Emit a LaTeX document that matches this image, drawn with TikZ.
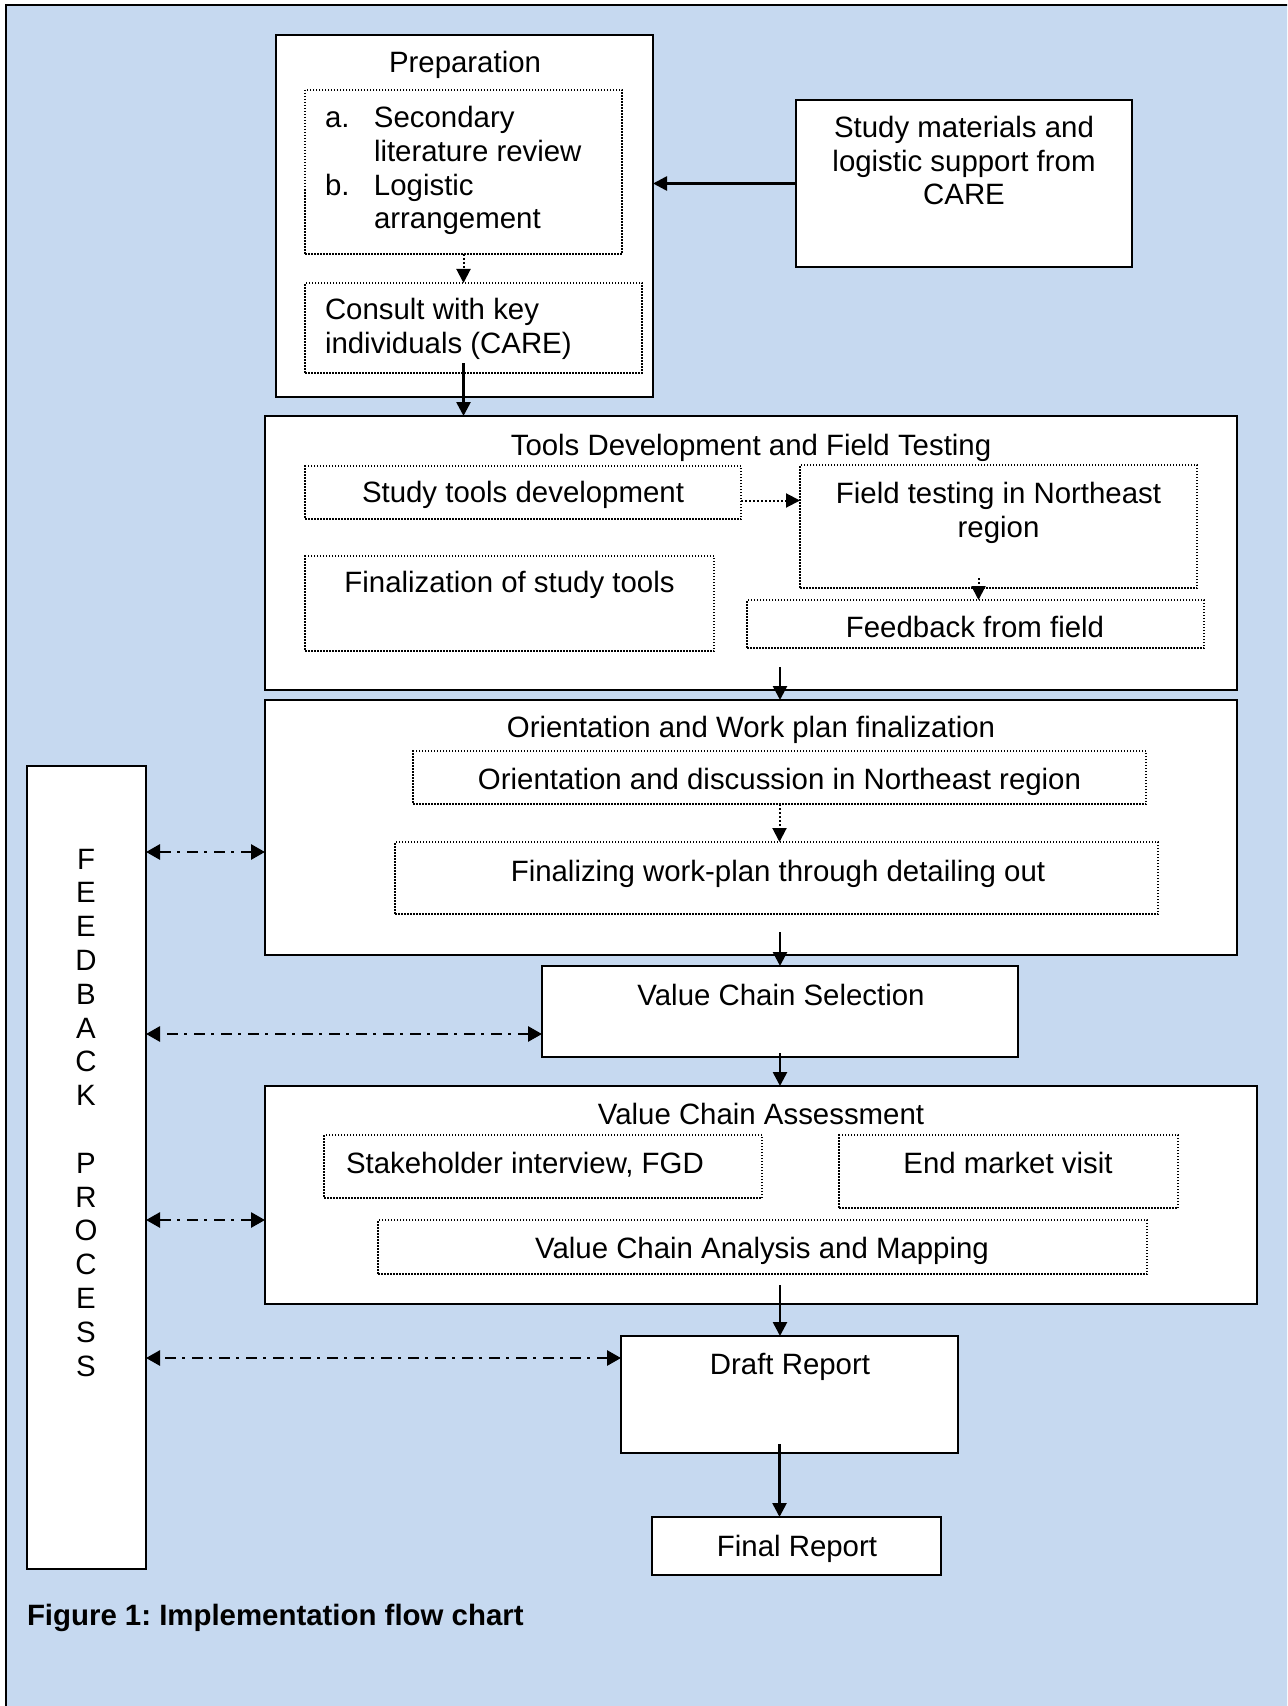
\documentclass[tikz,border=0pt]{standalone}
\usepackage{fontspec}
\setmainfont{Liberation Sans}
\usetikzlibrary{arrows.meta,calc,fit}

\definecolor{panel}{RGB}{198,217,240}
\frenchspacing

\begin{document}
\begin{tikzpicture}[x=0.5pt,y=-0.5pt,
  every node/.style={inner sep=0pt, outer sep=0pt},
  stage/.style={draw=black, line width=1pt, fill=white},
  sub/.style={draw=black, line width=0.75pt, dash pattern=on 0.75pt off 0.75pt},
  lbl/.style={font=\fontsize{14.7}{16.9}\selectfont, anchor=base, align=center},
  lbll/.style={font=\fontsize{14.7}{16.9}\selectfont, anchor=base west, align=left},
  tip/.style={-{Triangle[length=7pt,width=7pt]}},
  flow/.style={draw, line width=1.3pt, tip},
  dotflow/.style={draw, line width=1pt, dash pattern=on 1pt off 1pt, tip},
  loopback/.style={draw, line width=1.4pt, dash pattern=on 5.5pt off 3.5pt on 1.5pt off 3pt,
    {Triangle[length=7pt,width=7.5pt]}-{Triangle[length=7pt,width=7.5pt]}},
]
% page and panel
\clip (0,0) rectangle (1287,1706);
\fill[white] (0,0) rectangle (1287,1706);
\draw[fill=panel, line width=1pt] (6,5) rectangle (1300,1720);

% main stages
\node[stage, fit={(276,35) (653,397)}] (prep) {};
\node[stage, fit={(796,100) (1132,267)}] (study) {};
\node[stage, fit={(265,416) (1237,690)}] (tools) {};
\node[stage, fit={(265,700) (1237,955)}] (orient) {};
\node[stage, fit={(542,966) (1018,1057)}] (valsel) {};
\node[stage, fit={(265,1086) (1257,1304)}] (assess) {};
\node[stage, fit={(621,1336) (958,1453)}] (draft) {};
\node[stage, fit={(652,1517) (941,1575)}] (final) {};
\node[stage, fit={(27,766) (146,1569)}] (fb) {};

% sub-steps
\node[sub, fit={(305,90) (622,254)}] (list) {};
\node[sub, fit={(305,283) (642,373)}] (consult) {};
\node[sub, fit={(305,466) (741,519)}] (stdev) {};
\node[sub, fit={(305,556) (714,651)}] (fintools) {};
\node[sub, fit={(800,465) (1197,588)}] (fieldt) {};
\node[sub, fit={(747,600) (1204,648)}] (fbfield) {};
\node[sub, fit={(413,751) (1146,804)}] (odisc) {};
\node[sub, fit={(395,842) (1158,914)}] (fwp) {};
\node[sub, fit={(324,1135) (762,1198)}] (stake) {};
\node[sub, fit={(839,1135) (1178,1208)}] (endmkt) {};
\node[sub, fit={(378,1220) (1147,1274)}] (vca) {};

% texts (multi-line labels are anchored on their last line)
\node[lbl] (prep-t) at (465,73) {Preparation};
\node[lbll] (list-t) at (325,229) {\makebox[24.5pt][l]{a.}Secondary\\\hspace*{24.5pt}literature review\\\makebox[24.5pt][l]{b.}Logistic\\\hspace*{24.5pt}arrangement};
\node[lbll] (consult-t) at (325,353) {Consult with key\\individuals (CARE)};
\node[lbl] (study-t) at (964,205) {Study materials and\\logistic support from\\CARE};
\node[lbl] (tools-t) at (751,455) {Tools Development and Field Testing};
\node[lbl] (stdev-t) at (523,502) {Study tools development};
\node[lbl] (fintools-t) at (509.5,592) {Finalization of study tools};
\node[lbl] (fieldt-t) at (998.5,537) {Field testing in Northeast\\region};
\node[lbl] (fbfield-t) at (975,637) {Feedback from field};
\node[lbl] (orient-t) at (751,737) {Orientation and Work plan finalization};
\node[lbl] (odisc-t) at (779.5,789) {Orientation and discussion in Northeast region};
\node[lbl] (fwp-t) at (778,881) {Finalizing work-plan through detailing out};
\node[lbl] (valsel-t) at (781,1005) {Value Chain Selection};
\node[lbl] (assess-t) at (761,1124) {Value Chain Assessment};
\node[lbll] (stake-t) at (346,1173) {Stakeholder interview, FGD};
\node[lbl] (endmkt-t) at (1008,1173) {End market visit};
\node[lbl] (vca-t) at (762,1258) {Value Chain Analysis and Mapping};
\node[lbl] (draft-t) at (790,1374) {Draft Report};
\node[lbl] (final-t) at (797,1556) {Final Report};
\node[lbl] (fb-t) at (86,1376) {F\\E\\E\\D\\B\\A\\C\\K\\\mbox{}\\P\\R\\O\\C\\E\\S\\S};
\node[font=\fontsize{14.7}{16.9}\selectfont\bfseries, anchor=base west] (caption) at (27,1625) {Figure 1: Implementation flow chart};

% connectors inside stages
\draw[dotflow] (list.south) -- (list.south |- consult.north);
\draw[dotflow] ([yshift=-4pt]stdev.east) -- ([yshift=-4pt]stdev.east -| fieldt.west);
\coordinate (ft-out) at ($(fbfield.north |- fieldt.south)+(3,-10)$);
\draw[dotflow] (ft-out) -- (ft-out |- fbfield.north);
\draw[dotflow] (odisc.south) -- (odisc.south |- fwp.north);

% main flow
\coordinate (prep-out) at ($(consult.south)+(-10,-10)$);
\coordinate (tools-out) at ($(valsel.north |- tools.south)+(0,-23)$);
\coordinate (orient-out) at ($(valsel.north |- orient.south)+(0,-23)$);
\coordinate (valsel-out) at ($(valsel.south)+(0,-4)$);
\coordinate (assess-out) at ($(valsel.south |- assess.south)+(0,-19)$);
\coordinate (draft-out) at ($(final.north |- draft.south)+(-17,-9)$);
\draw[flow] (study.west) -- (study.west -| prep.east);
\draw[flow] (prep-out) -- (prep-out |- tools.north);
\draw[flow] (tools-out) -- (tools-out |- orient.north);
\draw[flow] (orient-out) -- (orient-out |- valsel.north);
\draw[flow] (valsel-out) -- (valsel-out |- assess.north);
\draw[flow] (assess-out) -- (assess-out |- draft.north);
\draw[flow] (draft-out) -- (draft-out |- final.north);

% feedback loops
\draw[loopback] ([yshift=-12.25pt]orient.west) -- ([yshift=-12.25pt]orient.west -| fb.east);
\draw[loopback] ([yshift=-11.25pt]valsel.west) -- ([yshift=-11.25pt]valsel.west -| fb.east);
\draw[loopback] ([yshift=-12.5pt]assess.west) -- ([yshift=-12.5pt]assess.west -| fb.east);
\draw[loopback] ([yshift=18.25pt]draft.west) -- ([yshift=18.25pt]draft.west -| fb.east);
\end{tikzpicture}
\end{document}
